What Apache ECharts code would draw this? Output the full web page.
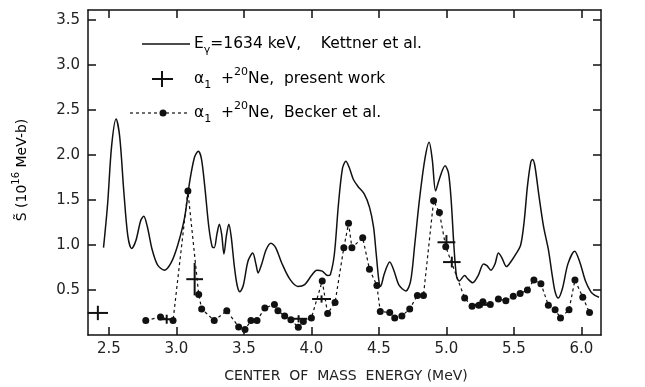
<!DOCTYPE html>
<html>
<head>
<meta charset="utf-8">
<script src="https://cdn.jsdelivr.net/npm/echarts@6/dist/echarts.min.js"></script>
<style>html,body{margin:0;padding:0;background:#fff;}#c{width:645px;height:387px;}</style>
</head>
<body>
<div id="c"></div>
<script>
// Kettner et al. (E_gamma = 1634 keV) solid curve
const kettnerX = [2.46,2.49,2.52,2.553,2.58,2.61,2.64,2.668,2.70,2.735,2.758,2.785,2.82,2.86,2.91,2.96,3.01,3.06,3.10,3.135,3.162,3.185,3.21,3.24,3.265,3.28,3.30,3.318,3.335,3.352,3.37,3.388,3.405,3.43,3.45,3.47,3.495,3.53,3.565,3.59,3.605,3.63,3.665,3.70,3.735,3.78,3.84,3.90,3.95,4.0,4.04,4.08,4.12,4.14,4.17,4.20,4.23,4.255,4.28,4.31,4.345,4.39,4.43,4.46,4.48,4.50,4.512,4.54,4.58,4.61,4.65,4.70,4.735,4.765,4.80,4.84,4.872,4.895,4.92,4.945,4.99,5.015,5.035,5.055,5.075,5.095,5.135,5.16,5.195,5.235,5.275,5.30,5.33,5.36,5.385,5.41,5.445,5.48,5.515,5.55,5.575,5.60,5.625,5.638,5.655,5.685,5.72,5.755,5.785,5.805,5.828,5.86,5.90,5.95,5.99,6.03,6.07,6.10,6.13];
const kettnerY = [0.97,1.45,2.1,2.40,2.2,1.6,1.1,0.96,1.05,1.27,1.32,1.2,0.95,0.78,0.72,0.8,1.0,1.3,1.72,1.98,2.04,1.96,1.65,1.2,0.98,0.97,1.12,1.23,1.12,0.9,1.1,1.23,1.1,0.75,0.55,0.48,0.55,0.82,0.91,0.78,0.69,0.78,0.95,1.02,0.97,0.8,0.62,0.54,0.56,0.66,0.72,0.71,0.66,0.67,0.9,1.45,1.85,1.93,1.86,1.73,1.65,1.57,1.42,1.2,0.9,0.6,0.54,0.68,0.81,0.72,0.55,0.49,0.6,1.0,1.5,1.95,2.14,1.95,1.6,1.72,1.88,1.80,1.5,1.0,0.65,0.6,0.66,0.62,0.58,0.66,0.79,0.77,0.72,0.79,0.91,0.86,0.76,0.82,0.9,1.0,1.25,1.65,1.92,1.95,1.88,1.55,1.2,0.95,0.65,0.48,0.41,0.52,0.79,0.93,0.8,0.6,0.48,0.44,0.42];

// Becker et al. points (dashed with dots)
const beckerX = [2.773,2.882,2.975,3.085,3.165,3.187,3.28,3.373,3.461,3.508,3.552,3.597,3.655,3.726,3.752,3.802,3.848,3.903,3.94,4.0,4.08,4.12,4.175,4.24,4.275,4.30,4.38,4.43,4.485,4.51,4.58,4.617,4.67,4.728,4.785,4.83,4.905,4.948,4.995,5.135,5.19,5.24,5.27,5.325,5.385,5.44,5.495,5.546,5.60,5.648,5.70,5.755,5.805,5.845,5.908,5.952,6.01,6.06];
const beckerY = [0.16,0.20,0.16,1.60,0.45,0.29,0.16,0.27,0.09,0.06,0.16,0.16,0.30,0.34,0.27,0.21,0.17,0.085,0.15,0.19,0.60,0.24,0.36,0.97,1.24,0.97,1.08,0.73,0.55,0.26,0.25,0.19,0.21,0.29,0.44,0.44,1.49,1.36,0.98,0.41,0.32,0.33,0.37,0.34,0.40,0.38,0.43,0.46,0.50,0.61,0.57,0.33,0.28,0.19,0.28,0.61,0.42,0.25];

// Present work (crosses with error bars)
const crossX  = [2.418,2.928,3.135,3.905,4.075,5.0,5.04,5.262];
const crossY  = [0.245,0.175,0.62,0.18,0.40,1.03,0.81,0.335];
const crossDX = [0.075,0.062,0.062,0.065,0.07,0.066,0.065,0.07];
const crossDY = [0.08,0.05,0.18,0.04,0.04,0.08,0.06,0.03];

const xTicks = [2.5,3.0,3.5,4.0,4.5,5.0,5.5,6.0];
const yTicks = [0.5,1.0,1.5,2.0,2.5,3.0,3.5];

const FONT = 'DejaVu Sans';
const INK = '#111';

const kettner = kettnerX.map((x,i)=>[x,kettnerY[i]]);
const becker = beckerX.map((x,i)=>[x,beckerY[i]]);
const crosses = crossX.map((x,i)=>[x,crossY[i],crossDX[i],crossDY[i]]);

const chart = echarts.init(document.getElementById('c'), null, {renderer:'canvas'});

const axisCommonX = {
  type:'value', min:2.345, max:6.145,
  splitLine:{show:false},
  axisLine:{show:true, onZero:false, lineStyle:{color:INK, width:1.5}},
  axisTick:{show:true, inside:true, length:8, customValues:xTicks, lineStyle:{color:INK, width:1.5}}
};
const axisCommonY = {
  type:'value', min:0, max:3.61,
  splitLine:{show:false},
  axisLine:{show:true, onZero:false, lineStyle:{color:INK, width:1.5}},
  axisTick:{show:true, inside:true, length:8, customValues:yTicks, lineStyle:{color:INK, width:1.5}}
};

const richBase = {
  n:{fontFamily:FONT, fontSize:15.5, color:'#222', lineHeight:24, verticalAlign:'middle'},
  sub:{fontFamily:FONT, fontSize:11, color:'#222', lineHeight:11, verticalAlign:'bottom'},
  sup:{fontFamily:FONT, fontSize:11, color:'#222', lineHeight:11, verticalAlign:'top'}
};
const richY = {
  n:{fontFamily:FONT, fontSize:14, color:'#222', lineHeight:22, verticalAlign:'middle'},
  sup:{fontFamily:FONT, fontSize:10, color:'#222', lineHeight:10, verticalAlign:'top'}
};

chart.setOption({
  animation:false,
  backgroundColor:'#fff',
  grid:{left:88, right:44, top:10, bottom:52, show:false},
  xAxis:[
    Object.assign({}, axisCommonX, {position:'bottom',
      axisLabel:{show:true, customValues:xTicks, margin:7, fontFamily:FONT, fontSize:15, color:'#222',
        formatter:v=>v.toFixed(1)}}),
    Object.assign({}, axisCommonX, {position:'top', axisLabel:{show:false}})
  ],
  yAxis:[
    Object.assign({}, axisCommonY, {position:'left',
      axisLabel:{show:true, customValues:yTicks, margin:8, fontFamily:FONT, fontSize:15, color:'#222',
        formatter:v=>v.toFixed(1)}}),
    Object.assign({}, axisCommonY, {position:'right', axisLabel:{show:false}})
  ],
  series:[
    {type:'line', data:kettner, showSymbol:false, smooth:0.3, lineStyle:{color:INK, width:1.5}, z:3},
    {type:'line', data:becker, symbol:'circle', symbolSize:7, smooth:false,
      itemStyle:{color:INK}, lineStyle:{color:'#111', width:1.2, type:[3,3]}, z:4},
    {type:'custom', data:crosses, z:5,
      renderItem:function(params, api){
        const x=api.value(0), y=api.value(1), dx=api.value(2), dy=api.value(3);
        const l=api.coord([x-dx,y]), r=api.coord([x+dx,y]);
        const t=api.coord([x,y+dy]), b=api.coord([x,y-dy]);
        const st={stroke:INK, lineWidth:2};
        return {type:'group', children:[
          {type:'line', shape:{x1:l[0],y1:l[1],x2:r[0],y2:r[1]}, style:st},
          {type:'line', shape:{x1:t[0],y1:t[1],x2:b[0],y2:b[1]}, style:st}
        ]};
      }}
  ],
  graphic:[
    {type:'line', shape:{x1:142,y1:44,x2:190,y2:44}, style:{stroke:INK, lineWidth:1.5}},
    {type:'text', x:194, y:44, style:{text:'{n|E}{sub|γ}{n|=1634 keV,    Kettner et al.}', rich:richBase, verticalAlign:'middle'}},
    {type:'line', shape:{x1:152,y1:79,x2:173,y2:79}, style:{stroke:INK, lineWidth:2}},
    {type:'line', shape:{x1:162,y1:71,x2:162,y2:87}, style:{stroke:INK, lineWidth:2}},
    {type:'text', x:194, y:79, style:{text:'{n|α}{sub|1}{n|  +}{sup|20}{n|Ne,  present work}', rich:richBase, verticalAlign:'middle'}},
    {type:'line', shape:{x1:130,y1:113,x2:190,y2:113}, style:{stroke:'#111', lineWidth:1.2, lineDash:[3,3]}},
    {type:'circle', shape:{cx:163, cy:113, r:3.5}, style:{fill:INK}},
    {type:'text', x:194, y:113, style:{text:'{n|α}{sub|1}{n|  +}{sup|20}{n|Ne,  Becker et al.}', rich:richBase, verticalAlign:'middle'}},
    {type:'text', x:22, y:170, rotation:Math.PI/2, style:{text:'{n|S̃ (10}{sup|16}{n| MeV-b)}', rich:richY, align:'center', verticalAlign:'middle'}},
    {type:'text', x:346, y:376, style:{text:'CENTER  OF  MASS  ENERGY (MeV)', fontFamily:FONT, fontSize:14, fill:'#222', align:'center', verticalAlign:'middle'}}
  ]
});
</script>
</body>
</html>
